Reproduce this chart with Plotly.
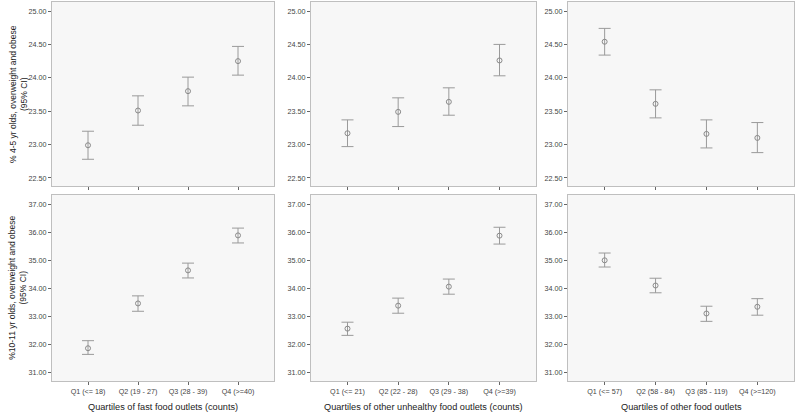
"""
Overweight/obesity prevalence by quartile of food outlet density, 95% CI plots.
"""
import plotly.graph_objects as go

# Top row: 4-5 yr olds; bottom row: 10-11 yr olds
fast_labels = ["Q1 (<= 18)", "Q2 (19 - 27)", "Q3 (28 - 39)", "Q4 (>=40)"]
unhealthy_labels = ["Q1 (<= 21)", "Q2 (22 - 28)", "Q3 (29 - 38)", "Q4 (>=39)"]
other_labels = ["Q1 (<= 57)", "Q2 (58 - 84)", "Q3 (85 - 119)", "Q4 (>=120)"]

fast_young_mean = [22.99, 23.51, 23.80, 24.25]
fast_young_lower = [22.78, 23.29, 23.58, 24.04]
fast_young_upper = [23.20, 23.73, 24.01, 24.47]

unhealthy_young_mean = [23.17, 23.49, 23.64, 24.26]
unhealthy_young_lower = [22.97, 23.27, 23.44, 24.03]
unhealthy_young_upper = [23.37, 23.70, 23.85, 24.50]

other_young_mean = [24.54, 23.61, 23.16, 23.10]
other_young_lower = [24.34, 23.40, 22.95, 22.88]
other_young_upper = [24.74, 23.82, 23.37, 23.33]

fast_old_mean = [31.86, 33.46, 34.64, 35.89]
fast_old_lower = [31.64, 33.18, 34.37, 35.62]
fast_old_upper = [32.13, 33.73, 34.90, 36.15]

unhealthy_old_mean = [32.56, 33.38, 34.06, 35.88]
unhealthy_old_lower = [32.32, 33.11, 33.79, 35.58]
unhealthy_old_upper = [32.79, 33.65, 34.33, 36.18]

other_old_mean = [35.00, 34.10, 33.10, 33.34]
other_old_lower = [34.76, 33.84, 32.82, 33.04]
other_old_upper = [35.26, 34.36, 33.36, 33.63]

x_titles = [
    "Quartiles of fast food outlets (counts)",
    "Quartiles of other unhealthy food outlets (counts)",
    "Quartiles of other food outlets",
]
y_titles = [
    "% 4-5 yr olds, overweight and obese<br>(95% CI)",
    "%10-11 yr olds, overweight and obese<br>(95% CI)",
]

W, H = 796, 412
col_px = [(52, 274), (311, 536), (568, 794)]
row_px = [(2, 186), (194.5, 381)]
y_ranges = [[22.38, 25.135], [30.69, 37.35]]
y_ticks = [[22.5, 23.0, 23.5, 24.0, 24.5, 25.0], [31, 32, 33, 34, 35, 36, 37]]

panels = [
    (0, 0, fast_labels, fast_young_mean, fast_young_lower, fast_young_upper),
    (0, 1, unhealthy_labels, unhealthy_young_mean, unhealthy_young_lower, unhealthy_young_upper),
    (0, 2, other_labels, other_young_mean, other_young_lower, other_young_upper),
    (1, 0, fast_labels, fast_old_mean, fast_old_lower, fast_old_upper),
    (1, 1, unhealthy_labels, unhealthy_old_mean, unhealthy_old_lower, unhealthy_old_upper),
    (1, 2, other_labels, other_old_mean, other_old_lower, other_old_upper),
]

fig = go.Figure()
layout = {}
tick_font = dict(family="Liberation Sans, Arial", size=7.2, color="#444444")

for i, (r, c, labels, mean, lower, upper) in enumerate(panels):
    n = i + 1
    xa = "x" if n == 1 else f"x{n}"
    ya = "y" if n == 1 else f"y{n}"
    fig.add_trace(
        go.Scatter(
            x=labels,
            y=mean,
            mode="markers",
            marker=dict(symbol="circle-open", size=5, color="#8a8a8a", line=dict(width=1)),
            error_y=dict(
                type="data",
                symmetric=False,
                array=[u - m for u, m in zip(upper, mean)],
                arrayminus=[m - l for m, l in zip(mean, lower)],
                color="#9a9a9a",
                thickness=1,
                width=6,
            ),
            xaxis=xa,
            yaxis=ya,
            showlegend=False,
            hoverinfo="skip",
        )
    )
    x0, x1 = col_px[c]
    t, b = row_px[r]
    layout[f"xaxis{'' if n == 1 else n}"] = dict(
        domain=[x0 / W, x1 / W],
        anchor=ya,
        type="category",
        range=[-0.72, 3.72],
        showgrid=False,
        zeroline=False,
        showline=True,
        mirror=True,
        linecolor="#bfbfbf",
        linewidth=1,
        ticks="outside",
        ticklen=3,
        tickcolor="#666666",
        showticklabels=(r == 1),
        tickfont=tick_font,
        fixedrange=True,
    )
    layout[f"yaxis{'' if n == 1 else n}"] = dict(
        domain=[1 - b / H, 1 - t / H],
        anchor=xa,
        range=y_ranges[r],
        tickvals=y_ticks[r],
        tickformat=".2f",
        showgrid=False,
        zeroline=False,
        showline=True,
        mirror=True,
        linecolor="#bfbfbf",
        linewidth=1,
        ticks="outside",
        ticklen=3,
        tickcolor="#666666",
        tickfont=tick_font,
        fixedrange=True,
    )

annotations = []
for c, title in enumerate(x_titles):
    x0, x1 = col_px[c]
    annotations.append(dict(
        text=title, xref="paper", yref="paper",
        x=(x0 + x1) / 2 / W, y=1 - 407 / H,
        xanchor="center", yanchor="middle", showarrow=False,
        font=dict(family="Liberation Sans, Arial", size=9.2, color="#222222"),
    ))
for r, title in enumerate(y_titles):
    t, b = row_px[r]
    annotations.append(dict(
        text=title, xref="paper", yref="paper",
        x=18 / W, y=1 - (t + b) / 2 / H,
        xanchor="center", yanchor="middle", showarrow=False, textangle=-90,
        font=dict(family="Liberation Sans, Arial", size=8.5, color="#222222"),
    ))

fig.update_layout(
    **layout,
    annotations=annotations,
    width=W,
    height=H,
    margin=dict(l=0, r=0, t=0, b=0),
    paper_bgcolor="white",
    plot_bgcolor="#f7f7f7",
)

# drop the browser's default body margin so the figure fills the window
fig.write_html(
    "out.html",
    config={"displayModeBar": False},
    post_script="document.body.style.margin='0';",
)
